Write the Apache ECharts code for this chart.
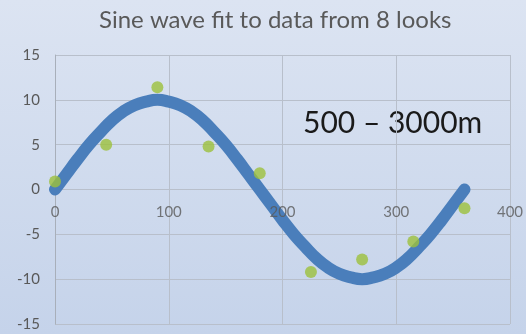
<!DOCTYPE html>
<html><head><meta charset="utf-8">
<script src="https://cdn.jsdelivr.net/npm/echarts@6/dist/echarts.min.js"></script>
<style>html,body{margin:0;padding:0;}#c{width:526px;height:334px;}</style>
</head><body><div id="c"></div>
<script>
// Observed data ("looks")
var lookAngles = [0, 45, 90, 135, 180, 225, 270, 315, 360];
var lookValues = [0.9, 5.0, 11.4, 4.8, 1.8, -9.2, -7.8, -5.8, -2.1];
// Fitted curve
var fitAngles = [0,10,20,30,40,50,60,70,80,90,100,110,120,130,140,150,160,170,180,190,200,210,220,230,240,250,260,270,280,290,300,310,320,330,340,350,360];
var fitValues = [0,1.7,3.4,5,6.4,7.7,8.7,9.4,9.8,10,9.8,9.4,8.7,7.7,6.4,5,3.4,1.7,0,-1.7,-3.4,-5,-6.4,-7.7,-8.7,-9.4,-9.8,-10,-9.8,-9.4,-8.7,-7.7,-6.4,-5,-3.4,-1.7,0];
// x tick labels, shown along the y = 0 line
var xTicks = [0, 100, 200, 300, 400];
var titleText = 'Sine wave fit to data from 8 looks';
var noteText = '500 \u2013 3000m';

var fitData = fitAngles.map(function(a,i){return [a, fitValues[i]];});
var lookData = lookAngles.map(function(a,i){return [a, lookValues[i]];});
var tickData = xTicks.map(function(t){return [t, 0];});
var font = 'Lato, "Open Sans", sans-serif';
var chart = echarts.init(document.getElementById('c'));
chart.setOption({
  animation: false,
  backgroundColor: {type:'linear', x:0, y:0, x2:0, y2:1, colorStops:[{offset:0,color:'#dce4f2'},{offset:1,color:'#c5d3ea'}]},
  title: {text: titleText, left: 94, top: 3, textStyle: {fontFamily: font, fontSize: 24, fontWeight: 'normal', color: '#595959'}},
  grid: {left: 55, right: 16, top: 55, bottom: 10, containLabel: false, outerBoundsMode: 'none'},
  xAxis: {type:'value', min:0, max:400, interval:100,
    axisLine:{show:false},
    axisTick:{show:false},
    axisLabel:{show:false},
    splitLine:{show:true, lineStyle:{color:'#b8bfcb', width:1}}},
  yAxis: {type:'value', min:-15, max:15, interval:5,
    axisLine:{show:true, onZero:false, lineStyle:{color:'#a8afba', width:1}},
    axisTick:{show:false},
    axisLabel:{fontFamily:font, fontSize:15, color:'#595959', margin:15},
    splitLine:{show:true, lineStyle:{color:'#b8bfcb', width:1}}},
  graphic: [{type:'text', left:303, top:108, style:{text: noteText, font:'30px ' + font, fill:'#1a1a1a'}}],
  series: [
    {type:'line', data: fitData, smooth:true, showSymbol:false, z:2,
     lineStyle:{color:'#4a7ebb', width:12, cap:'round', join:'round'}},
    {type:'scatter', data: lookData, symbolSize:12, z:3,
     itemStyle:{color:'#9cc03c'}},
    {type:'scatter', data: tickData, symbolSize:0, z:5, zlevel:1, silent:true, clip:false,
     itemStyle:{color:'rgba(0,0,0,0)'},
     label:{show:true, position:'bottom', distance:15, formatter:function(p){return String(p.value[0]);},
       fontFamily:font, fontSize:15, color:'#595959'}}
  ]
});
</script></body></html>
